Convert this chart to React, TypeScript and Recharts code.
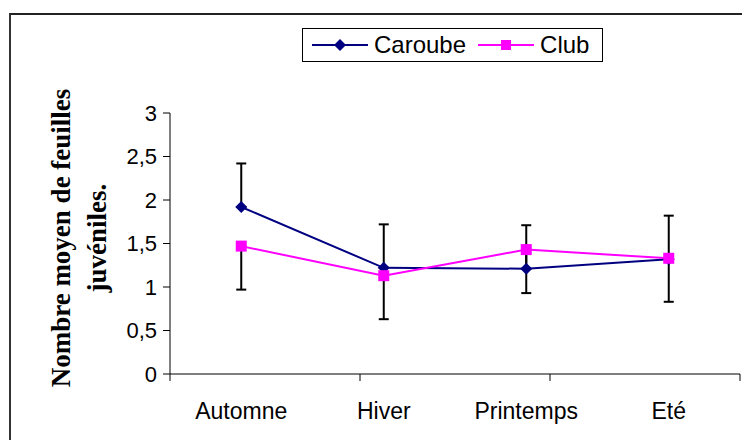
import {
  ComposedChart,
  ErrorBar,
  Legend,
  Line,
  XAxis,
  YAxis,
} from 'recharts'

const seasons = ['Automne', 'Hiver', 'Printemps', 'Eté']
const caroube = [1.92, 1.22, 1.21, 1.32]
const club = [1.47, 1.13, 1.43, 1.33]
// Excel-style bars: upper half on Caroube, lower half on Club
const caroubeErr = [0.5, 0.5, 0.5, 0.5]
const clubErr = [0.5, 0.5, 0.5, 0.5]
const yTicks = [0, 0.5, 1, 1.5, 2, 2.5, 3]

const data = seasons.map((season, i) => ({
  season,
  pos: i + 0.5,
  caroube: caroube[i],
  club: club[i],
  caroubeErr: [0, caroubeErr[i]],
  clubErr: [clubErr[i], 0],
}))

const NAVY = '#000080'
const MAGENTA = '#ff00ff'
const FONT = '"Liberation Sans", Arial, sans-serif'

const Diamond = ({ cx, cy }: any) => (
  <path d={`M${cx},${cy - 6}L${cx + 6},${cy}L${cx},${cy + 6}L${cx - 6},${cy}Z`} fill={NAVY} />
)

const Square = ({ cx, cy }: any) => (
  <rect x={cx - 5.5} y={cy - 5.5} width={11} height={11} fill={MAGENTA} />
)

function LegendBox() {
  const item = (label: string, color: string, square: boolean) => (
    <span style={{ display: 'inline-flex', alignItems: 'center', marginRight: 12 }}>
      <svg width={56} height={14} style={{ marginRight: 6 }}>
        <line x1={0} y1={7} x2={56} y2={7} stroke={color} strokeWidth={2} />
        {square ? (
          <rect x={23} y={2} width={10} height={10} fill={color} />
        ) : (
          <path d="M28,1L34,7L28,13L22,7Z" fill={color} />
        )}
      </svg>
      {label}
    </span>
  )
  return (
    <div
      style={{
        border: '1px solid #000',
        height: 34,
        boxSizing: 'border-box',
        display: 'flex',
        alignItems: 'center',
        paddingLeft: 9,
        fontFamily: FONT,
        fontSize: 24,
        background: '#fff',
      }}
    >
      {item('Caroube', NAVY, false)}
      {item('Club', MAGENTA, true)}
    </div>
  )
}

function YTitle() {
  const cy = 238
  return (
    <g fontFamily='"Liberation Serif", "Times New Roman", serif' fontWeight="bold" fontSize={27} fill="#000">
      <text x={70} y={cy} textAnchor="middle" transform={`rotate(-90 70 ${cy})`}>
        Nombre moyen de feuilles
      </text>
      <text x={106} y={cy} textAnchor="middle" transform={`rotate(-90 106 ${cy})`}>
        juvéniles.
      </text>
    </g>
  )
}

export default function App() {
  return (
    <div style={{ position: 'relative', width: 750, height: 448, margin: -8, background: '#fff' }}>
      <div
        style={{
          position: 'absolute',
          left: 9,
          top: 13,
          right: 0,
          bottom: 0,
          borderTop: '2px solid #222',
          borderLeft: '2px solid #333',
        }}
      />
      <div style={{ position: 'absolute', left: 0, top: 0 }}>
        <ComposedChart
          width={750}
          height={448}
          data={data}
          margin={{ top: 113, right: 10, bottom: 14, left: 110 }}
        >
          <XAxis
            xAxisId="a_grid"
            type="number"
            domain={[0, 4]}
            ticks={[0, 1, 2, 3, 4]}
            tickFormatter={() => ''}
            tickSize={7}
            height={8}
            stroke="#000"
            axisLine={{ stroke: '#000', strokeWidth: 1 }}
          />
          <XAxis
            xAxisId="b_cat"
            type="number"
            dataKey="pos"
            domain={[0, 4]}
            ticks={data.map((d) => d.pos)}
            tickFormatter={(v: number) => seasons[Math.floor(v)]}
            axisLine={false}
            tickLine={false}
            tickSize={0}
            tickMargin={21}
            height={52}
            tick={{ fill: '#000', fontSize: 23, fontFamily: FONT }}
          />
          <YAxis
            domain={[0, 3]}
            ticks={yTicks}
            interval={0}
            width={60}
            tickSize={7}
            tickMargin={6}
            tickFormatter={(v: number) => String(v).replace('.', ',')}
            axisLine={{ stroke: '#000' }}
            tickLine={{ stroke: '#000' }}
            tick={{ fill: '#000', fontSize: 22, fontFamily: FONT }}
            label={{ content: () => <YTitle /> }}
          />
          <Legend
            layout="horizontal"
            verticalAlign="middle"
            align="center"
            wrapperStyle={{ top: 28, left: 302, width: 301 }}
            content={() => <LegendBox />}
          />
          <Line
            xAxisId="b_cat"
            dataKey="caroube"
            name="Caroube"
            stroke={NAVY}
            strokeWidth={2}
            dot={<Diamond />}
            activeDot={false}
            isAnimationActive={false}
          >
            <ErrorBar dataKey="caroubeErr" stroke="#000" strokeWidth={2} width={5} />
          </Line>
          <Line
            xAxisId="b_cat"
            dataKey="club"
            name="Club"
            stroke={MAGENTA}
            strokeWidth={2}
            dot={<Square />}
            activeDot={false}
            isAnimationActive={false}
          >
            <ErrorBar dataKey="clubErr" stroke="#000" strokeWidth={2} width={5} />
          </Line>
        </ComposedChart>
      </div>
    </div>
  )
}
